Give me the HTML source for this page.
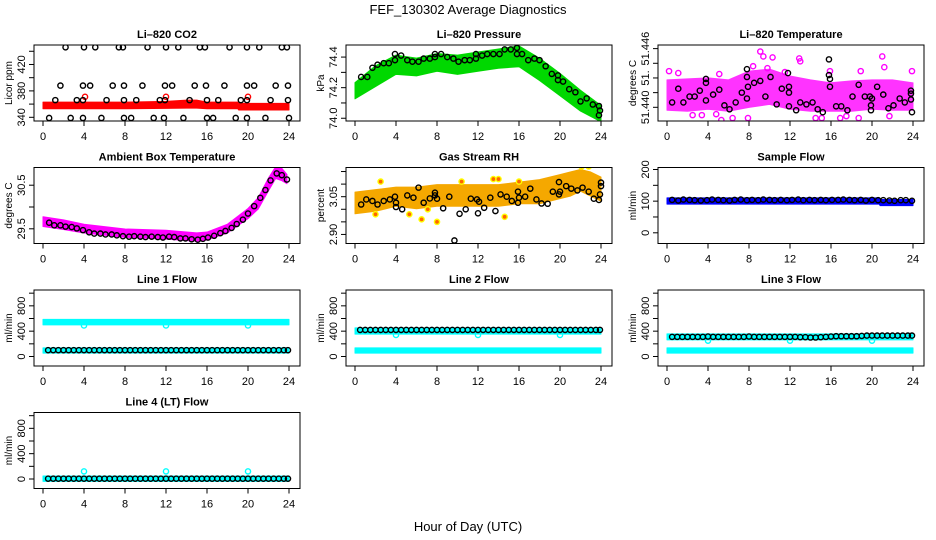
<!DOCTYPE html>
<html><head><meta charset="utf-8"><style>
html,body{margin:0;padding:0;background:#fff;}
svg{display:block;font-family:"Liberation Sans",Arial,sans-serif;}
</style></head><body>
<svg id="chart" width="936" height="540" viewBox="0 0 936 540" xmlns="http://www.w3.org/2000/svg">
<rect x="0" y="0" width="936" height="540" fill="#fff"/>
<text x="468" y="14" text-anchor="middle" font-size="13">FEF_130302  Average Diagnostics</text>
<text x="468" y="531" text-anchor="middle" font-size="13">Hour of Day (UTC)</text>
</svg>
<script>
// ---------- CO2 ----------
const co2TopH=[2.2,4.0,5.1,7.4,7.8,10.2,12.0,13.2,15.3,15.8,18.2,19.9,21.1,23.3,23.8];
const co2TopV=[446,446,446,446,446,446,446,446,446,446,446,446,446,446,446];
const co2MidH=[1.7,3.9,4.6,6.8,7.9,9.7,11.9,12.6,14.8,15.9,17.7,19.9,20.6,22.7,23.9];
const co2MidV=[388,388,388,388,388,388,388,388,388,388,388,388,388,388,388];
const co2LowH=[1.2,3.3,3.9,6.2,7.9,9.1,11.4,11.9,14.3,16.0,17.1,19.3,19.9,22.2,23.9];
const co2LowV=[366,366,366,366,366,366,366,366,366,366,366,366,366,366,366];
const co2BotH=[0.6,2.7,3.9,5.7,7.9,8.6,10.8,11.8,13.7,16.0,16.6,18.8,19.9,21.7,24.0];
const co2BotV=[339,339,339,339,339,339,339,339,339,339,339,339,339,339,339];
const co2BandH=[0,4,8,12,14,15,16,19,19.1,24];
const co2BandLo=[356,356,356,356.5,357,357,356,356,354,354];
const co2BandHi=[360,360,360,361,363,363,360,360,358,358];
const co2RedH=[4.1,12.0,20.0];
const co2RedV=[371,371,371];
// ---------- Pressure ----------
const prH=[0.6,1.2,1.7,2.2,2.8,3.3,3.9,3.9,4.5,5.1,5.6,6.2,6.7,7.3,7.8,7.8,8.4,9.0,9.6,10.1,10.7,11.2,11.8,11.8,12.4,12.9,13.5,14.1,14.6,15.2,15.8,15.8,16.3,16.9,17.5,18.0,18.6,19.2,19.8,19.8,20.3,20.9,21.5,22.0,22.6,23.2,23.8,23.9,23.8];
const prV=[74.27,74.27,74.33,74.35,74.36,74.36,74.38,74.42,74.41,74.38,74.37,74.37,74.39,74.39,74.40,74.42,74.42,74.40,74.39,74.37,74.38,74.38,74.39,74.42,74.41,74.42,74.42,74.42,74.45,74.45,74.46,74.42,74.42,74.38,74.39,74.38,74.34,74.29,74.28,74.25,74.24,74.19,74.17,74.11,74.13,74.09,74.08,74.05,74.02];
const prBandH=[0,2,4,6,8,10,12,14,16,18,20,22,24];
const prBandLo=[74.14,74.22,74.30,74.29,74.32,74.30,74.32,74.34,74.35,74.26,74.16,74.06,73.99];
const prBandHi=[74.22,74.33,74.40,74.38,74.41,74.40,74.42,74.44,74.46,74.38,74.28,74.17,74.07];
// ---------- Li-820 Temperature ----------
const ltH=[0.5,1.1,1.6,2.2,2.7,3.2,3.8,3.8,3.8,4.5,5.1,5.6,6.1,6.7,7.3,7.8,7.8,7.8,7.9,8.5,9.1,9.6,10.1,10.7,11.2,11.8,11.9,11.9,11.9,12.6,13.0,13.6,14.2,14.7,15.2,15.8,15.8,15.9,15.9,16.5,17.0,17.6,18.1,18.7,19.3,19.8,19.9,19.9,20.0,20.5,21.1,21.6,22.1,22.7,23.2,23.8,23.8,23.8,23.9];
const ltV=[51.4405,51.4419,51.4405,51.4411,51.4411,51.4417,51.4429,51.4425,51.4407,51.4413,51.4418,51.4402,51.4398,51.4405,51.4415,51.4439,51.4431,51.4409,51.4421,51.4425,51.4427,51.4411,51.4431,51.4403,51.4419,51.4435,51.4421,51.4415,51.4401,51.4397,51.4405,51.4403,51.4405,51.4398,51.4395,51.4449,51.4433,51.4429,51.4421,51.4401,51.4401,51.4397,51.4411,51.4423,51.4411,51.4411,51.4397,51.4402,51.4409,51.4421,51.4413,51.4399,51.4402,51.4409,51.4405,51.4414,51.4408,51.4417,51.4395];
const ltBandH=[0,2,4,6,8,10,12,14,16,18,20,22,24];
const ltBandLo=[51.4399,51.4398,51.4400,51.4398,51.4402,51.4405,51.4400,51.4398,51.4398,51.4398,51.4400,51.4399,51.4399];
const ltBandHi=[51.4426,51.4427,51.4428,51.4426,51.4435,51.4437,51.4430,51.4426,51.4423,51.4425,51.4426,51.4426,51.4423];
const ltOutH=[0.2,1.1,3.4,5.1,5.3,6.4,7.9,9.1,9.4,9.8,10.3,12.9,13.0,14.5,15.1,15.9,16.9,18.7,18.9,21.0,21.2,21.7,23.9,8.4,11.5,2.5,4.8,17.5];
const ltOutV=[51.4437,51.4435,51.4392,51.4434,51.4387,51.4389,51.4389,51.4457,51.4452,51.4440,51.4451,51.4450,51.4447,51.4389,51.4389,51.4437,51.4389,51.4389,51.4437,51.4452,51.4441,51.4391,51.4437,51.4442,51.4436,51.4392,51.4393,51.4391];
// ---------- Ambient box temperature ----------
const abH=[0.6,1.1,1.7,2.2,2.8,3.3,3.9,4.5,5.0,5.6,6.1,6.7,7.2,7.8,8.4,8.9,9.5,10.0,10.6,11.2,11.7,12.3,12.8,13.4,13.9,14.5,15.1,15.6,16.1,16.7,17.3,17.8,18.4,18.9,19.5,20.0,20.6,21.2,21.7,22.2,22.8,23.3,23.8];
const abV=[29.64,29.58,29.58,29.55,29.54,29.51,29.47,29.42,29.39,29.39,29.37,29.37,29.35,29.33,29.32,29.33,29.32,29.31,29.32,29.31,29.30,29.32,29.31,29.28,29.28,29.26,29.25,29.27,29.30,29.34,29.40,29.45,29.52,29.61,29.71,29.85,30.02,30.21,30.39,30.61,30.77,30.73,30.63];
const abBandH=[0,2,4,8,12,15,16,18,20,21,22,22.7,23.3,23.8];
const abBandLo=[29.60,29.53,29.45,29.35,29.31,29.26,29.29,29.45,29.78,30.0,30.42,30.70,30.65,30.58];
const abBandHi=[29.73,29.66,29.56,29.45,29.42,29.36,29.38,29.56,29.92,30.17,30.62,30.88,30.84,30.70];
// ---------- Gas stream RH ----------
const rhH=[0.6,1.1,1.7,2.2,2.8,3.4,3.9,4.0,4.0,4.6,5.1,5.7,6.2,6.7,7.3,7.8,7.8,8.0,8.6,9.2,9.7,10.2,10.8,11.3,11.9,12.0,12.1,12.6,13.2,13.7,14.2,14.8,15.3,15.9,15.9,16.0,16.6,17.1,17.7,18.2,18.8,19.3,19.9,19.9,20.0,20.6,21.1,21.7,22.2,22.8,23.3,23.8,23.9,24.0,24.0];
const rhV=[3.019,3.039,3.033,3.019,3.033,3.039,3.050,3.026,3.009,3.000,3.055,3.046,3.086,3.026,3.043,3.066,3.055,3.042,3.004,3.050,2.876,2.982,3.000,3.042,3.039,2.984,3.030,3.006,3.046,2.993,3.059,3.050,3.033,3.026,3.070,3.046,3.050,3.082,3.039,3.023,3.022,3.070,3.059,3.108,3.070,3.092,3.082,3.075,3.086,3.070,3.042,3.037,3.059,3.106,3.092];
const rhBandH=[0,2,4,6,8,10,12,14,16,18,20,21,22,23,24];
const rhBandLo=[2.99,3.00,3.02,3.01,3.02,3.02,3.02,3.02,3.03,3.03,3.05,3.06,3.08,3.06,3.04];
const rhBandHi=[3.06,3.07,3.08,3.08,3.09,3.09,3.09,3.09,3.10,3.11,3.13,3.14,3.15,3.14,3.12];
const rhOutH=[2.0,2.5,5.3,6.5,7.1,8.0,10.4,13.5,14.6,14.0,22.1,22.8,16.0];
const rhOutV=[2.98,3.11,2.98,2.96,3.00,2.95,3.11,3.12,2.97,3.12,3.17,3.17,3.11];
// ---------- Sample flow ----------
const sfH=[0.5,1.1,1.6,2.2,2.7,3.3,3.9,4.4,5.0,5.5,6.1,6.6,7.2,7.8,8.3,8.9,9.4,10.0,10.5,11.1,11.7,12.2,12.8,13.3,13.9,14.4,15.0,15.5,16.1,16.7,17.2,17.8,18.3,18.9,19.4,20.0,20.6,21.1,21.7,22.2,22.8,23.3,23.9];
const sfV=[104,102,105,104,103,102,103,105,104,103,102,104,105,103,104,103,105,104,103,104,103,104,105,103,104,103,104,103,104,104,105,104,103,104,102,104,103,103,102,101,103,103,101];
const sfBandH=[0,20.7,20.8,24];
const sfBandLo=[97,97,92,92];
const sfBandHi=[104,104,99,99];
// ---------- Line flows ----------
const lfH=[0.5,1.0,1.5,2.0,2.5,3.0,3.5,4.0,4.5,5.0,5.5,6.0,6.5,7.0,7.5,8.0,8.5,9.0,9.5,10.0,10.5,11.0,11.5,12.0,12.5,13.0,13.5,14.0,14.5,15.0,15.5,16.0,16.5,17.0,17.5,18.0,18.5,19.0,19.5,20.0,20.5,21.0,21.5,22.0,22.5,23.0,23.5,23.9];
const l1V=[100,100,100,100,100,100,100,100,100,100,100,100,100,100,100,100,100,100,100,100,100,100,100,100,100,100,100,100,100,100,100,100,100,100,100,100,100,100,100,100,100,100,100,100,100,100,100,100];
const l2V=[420,420,420,420,420,420,420,420,420,420,420,420,420,420,420,420,420,420,420,420,420,420,420,420,420,420,420,420,420,420,420,420,420,420,420,420,420,420,420,420,420,420,420,420,420,420,420,420];
const l3V=[310,310,310,310,310,310,310,315,310,310,310,310,310,310,310,315,310,310,310,310,310,310,310,310,310,305,305,300,300,305,310,315,320,320,320,320,320,325,330,330,330,330,330,330,330,330,330,330];
const l4V=[5,5,5,5,5,5,5,5,5,5,5,5,5,5,5,5,5,5,5,5,5,5,5,5,5,5,5,5,5,5,5,5,5,5,5,5,5,5,5,5,5,5,5,5,5,5,5,5];
const cyBandH=[0,24];
const l1HiLo=[530,530]; const l1HiHi=[555,555];
const l1LoLo=[85,85];   const l1LoHi=[105,105];
const l2HiLo=[385,385]; const l2HiHi=[420,420];
const l3HiLo=[295,295]; const l3HiHi=[325,325];
const l4LoLo=[-5,-5]; const l4LoHi=[15,15];
const dipH=[4.0,12.0,20.0];
const l1Dip=[490,490,490];
const l2Dip=[340,340,340];
const l3Dip=[250,250,250];
const l4Dip=[120,120,120];
const hourTicks=[0,4,8,12,16,20,24];

const NS='http://www.w3.org/2000/svg';
const svg=document.getElementById('chart');
function mk(tag,attrs,parent){const e=document.createElementNS(NS,tag);for(const k in attrs)e.setAttribute(k,attrs[k]);(parent||svg).appendChild(e);return e;}

function makePanel(name,c,r,y0,y1,ticks,labels,title,ylab){
  const L=312*c+34,R=312*c+300,T=45+122.5*r,B=T+76;
  const g=mk('g',{});
  
  
  const x=h=>312*c+43+h*10.25;
  const y=v=>B-(v-y0)/(y1-y0)*76;
  const t=mk('text',{x:(L+R)/2,y:T-7,'text-anchor':'middle','font-size':11,'font-weight':'bold'},g);
  t.textContent=title;
  
  
  const yl=mk('text',{x:0,y:0,'text-anchor':'middle','font-size':10,transform:`translate(${312*c+12},${(T+B)/2}) rotate(-90)`},g);
  yl.textContent=ylab;
  
  
  mk('line',{x1:x(0),x2:x(24),y1:B,y2:B,stroke:'#000','stroke-width':1},g);
  hourTicks.forEach(h=>{
    mk('line',{x1:x(h),x2:x(h),y1:B,y2:B+5,stroke:'#000','stroke-width':1},g);
    const tl=mk('text',{x:x(h),y:B+19,'text-anchor':'middle','font-size':11},g);
    tl.textContent=h;
    
    
  });
  mk('line',{x1:L,x2:L,y1:y(ticks[0]),y2:y(ticks[ticks.length-1]),stroke:'#000','stroke-width':1},g);
  ticks.forEach((v,i)=>{
    mk('line',{x1:L-5,x2:L,y1:y(v),y2:y(v),stroke:'#000','stroke-width':1},g);
    if(labels[i]){
      const tl=mk('text',{x:0,y:0,'text-anchor':'middle','font-size':11,transform:`translate(${312*c+25},${y(v)}) rotate(-90)`},g);
      tl.textContent=labels[i];
      
      
    }
  });
  const clipId='clip'+c+'_'+r;
  const cp=mk('clipPath',{id:clipId},g);mk('rect',{x:L,y:T,width:R-L,height:B-T},cp);
  const plot=mk('g',{'clip-path':`url(#${clipId})`},g);
  mk('rect',{x:L,y:T,width:R-L,height:B-T,fill:'none',stroke:'#000','stroke-width':1},g);
  return {x,y,plot,g};
}
function band(p,H,lo,hi,color,name){
  let d='';
  H.forEach((h,i)=>{d+=(i?'L':'M')+p.x(h)+','+(p.y(hi[i])-2);});
  for(let i=H.length-1;i>=0;i--) d+='L'+p.x(H[i])+','+(p.y(lo[i])+2);
  d+='Z';
  const e=mk('path',{d,fill:color,stroke:color,'stroke-width':1,'stroke-linejoin':'round'},p.plot);
  
  
}
function pts(p,H,V,color,name,fill){
  H.forEach((h,i)=>{
    const e=mk('circle',{cx:p.x(h),cy:p.y(V[i]),r:2.6,fill:fill||'none',stroke:color,'stroke-width':1.4},p.plot);
    
    
  });
}

let p=makePanel('co2-panel',0,0,334.4,449.5,[340,360,380,400,420,440],['340','','380','','420',''],'Li\u2013820 CO2','Licor ppm');
band(p,co2BandH,co2BandLo,co2BandHi,'#ff0000','co2-history-band');
pts(p,co2RedH,co2RedV,'#ff0000','co2-history-point');
pts(p,co2TopH,co2TopV,'#000','co2-point');pts(p,co2MidH,co2MidV,'#000','co2-point');
pts(p,co2LowH,co2LowV,'#000','co2-point');pts(p,co2BotH,co2BotV,'#000','co2-point');

p=makePanel('pressure-panel',1,0,73.982,74.479,[74.0,74.1,74.2,74.3,74.4],['74.0','','74.2','','74.4'],'Li\u2013820 Pressure','kPa');
band(p,prBandH,prBandLo,prBandHi,'#00d800','pressure-history-band');
pts(p,prH,prV,'#000','pressure-point');

p=makePanel('li820-temperature-panel',2,0,51.4386,51.44637,[51.4400,51.4415,51.4430,51.4445,51.4460],['51.440','','51.','','51.446'],'Li\u2013820 Temperature','degrees C');
band(p,ltBandH,ltBandLo,ltBandHi,'#ff33ff','li820-temperature-history-band');
pts(p,ltOutH,ltOutV,'#ff00ff','li820-temperature-history-point');
pts(p,ltH,ltV,'#000','li820-temperature-point');

p=makePanel('ambient-temperature-panel',0,1,29.163,30.906,[29.5,30.0,30.5],['29.5','','30.5'],'Ambient Box Temperature','degrees C');
band(p,abBandH,abBandLo,abBandHi,'#ff00ff','ambient-temperature-history-band');
pts(p,abH,abV,'#000','ambient-temperature-point');

p=makePanel('gas-stream-rh-panel',1,1,2.864,3.166,[2.90,2.95,3.00,3.05,3.10,3.15],['2.90','','','3.05','',''],'Gas Stream RH','percent');
band(p,rhBandH,rhBandLo,rhBandHi,'#f5a800','rh-history-band');
pts(p,rhOutH,rhOutV,'#ffff00','rh-history-point','#ff6600');
pts(p,rhH,rhV,'#000','rh-point');

p=makePanel('sample-flow-panel',2,1,-33.8,206.3,[0,50,100,150,200],['0','','100','','200'],'Sample Flow','ml/min');
band(p,sfBandH,sfBandLo,sfBandHi,'#0000ff','sample-flow-history-band');
pts(p,sfH,sfV,'#000','sample-flow-point');
const flowT=[0,200,400,600,800,1000], flowL=['0','','400','','800',''];

p=makePanel('line1-flow-panel',0,2,-150,1050,flowT,flowL,'Line 1 Flow','ml/min');
band(p,cyBandH,l1HiLo,l1HiHi,'#00ffff','line1-history-band');
band(p,cyBandH,l1LoLo,l1LoHi,'#00ffff','line1-history-low-band');
pts(p,dipH,l1Dip,'#00ffff','line1-history-point');
pts(p,lfH,l1V,'#000','line1-flow-point');

p=makePanel('line2-flow-panel',1,2,-150,1050,flowT,flowL,'Line 2 Flow','ml/min');
band(p,cyBandH,l2HiLo,l2HiHi,'#00ffff','line2-history-band');
band(p,cyBandH,l1LoLo,l1LoHi,'#00ffff','line2-history-low-band');
pts(p,dipH,l2Dip,'#00ffff','line2-history-point');
pts(p,lfH,l2V,'#000','line2-flow-point');

p=makePanel('line3-flow-panel',2,2,-150,1050,flowT,flowL,'Line 3 Flow','ml/min');
band(p,cyBandH,l3HiLo,l3HiHi,'#00ffff','line3-history-band');
band(p,cyBandH,l1LoLo,l1LoHi,'#00ffff','line3-history-low-band');
pts(p,dipH,l3Dip,'#00ffff','line3-history-point');
pts(p,lfH,l3V,'#000','line3-flow-point');

p=makePanel('line4-flow-panel',0,3,-150,1050,flowT,flowL,'Line 4 (LT) Flow','ml/min');
band(p,cyBandH,l4LoLo,l4LoHi,'#00ffff','line4-history-band');
pts(p,dipH,l4Dip,'#00ffff','line4-history-point');
pts(p,lfH,l4V,'#000','line4-flow-point');
</script>
</body></html>
